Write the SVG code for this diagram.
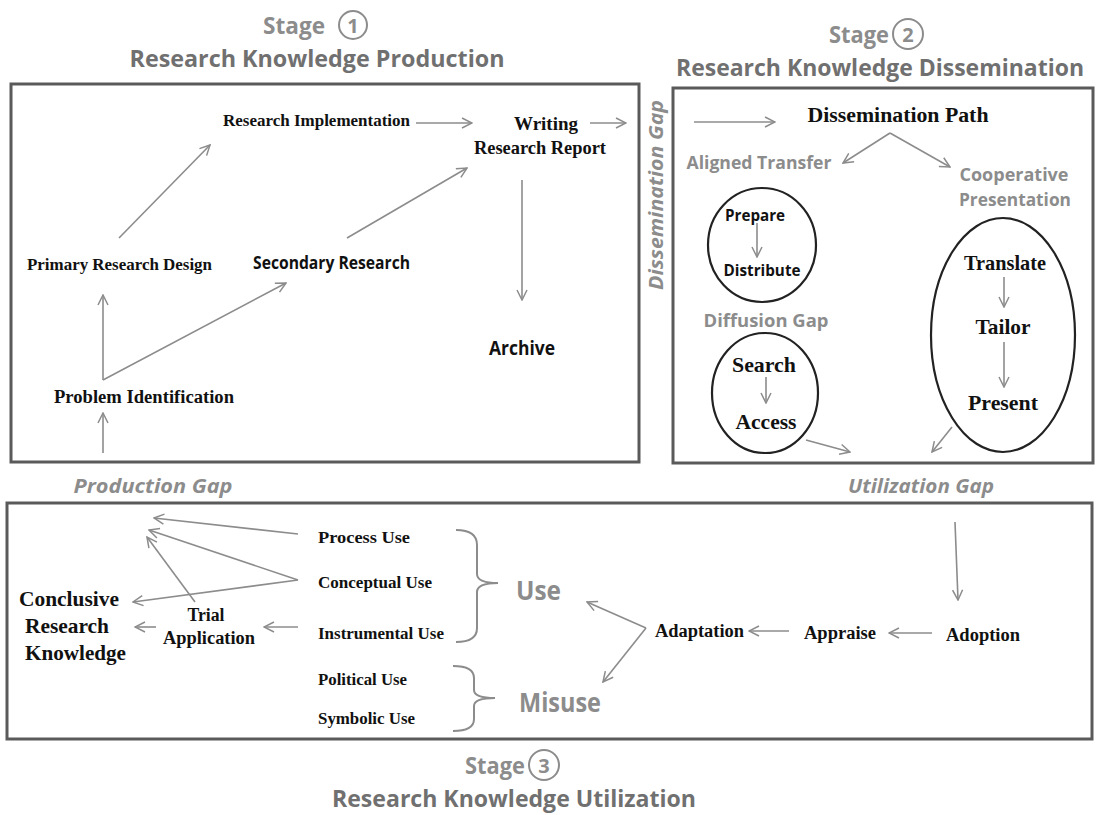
<svg xmlns="http://www.w3.org/2000/svg" width="1098" height="815" viewBox="0 0 1098 815">
<defs>
<marker id="ah" viewBox="0 0 12 12" refX="11" refY="6" markerWidth="12" markerHeight="12" markerUnits="userSpaceOnUse" orient="auto">
<path d="M1,1 L11,6 L1,11" fill="none" stroke="#8c8c8c" stroke-width="1.5"/>
</marker>
<style>
.box{fill:none;stroke:#5a5a5a;stroke-width:3}
.ell{fill:none;stroke:#222;stroke-width:2.2}
.ser{font-family:"Liberation Serif","Times New Roman",serif;font-weight:bold;fill:#111;dominant-baseline:central}
.san{font-family:"Open Sans","Noto Sans","Liberation Sans",sans-serif;font-weight:bold;fill:#111;dominant-baseline:central}
.gry{fill:#8c8c8c}
.ttl{fill:#707070}
.gap{font-family:"Open Sans","Noto Sans","Liberation Sans",sans-serif;font-weight:bold;font-style:italic;fill:#8c8c8c;dominant-baseline:central}
.mid{text-anchor:middle}
.cn line{stroke:#8c8c8c;stroke-width:1.6;marker-end:url(#ah)}
.brace{fill:none;stroke:#8c8c8c;stroke-width:2}
.numc{fill:none;stroke:#8c8c8c;stroke-width:2}
</style>
</defs>
<rect width="1098" height="815" fill="#fff"/>

<!-- Stage titles -->
<g id="stage1-title">
<text class="san gry" x="263" y="25" font-size="23" textLength="62" lengthAdjust="spacingAndGlyphs">Stage</text>
<circle class="numc" cx="353" cy="25" r="14"/>
<text class="san gry mid" x="353" y="25" font-size="20">1</text>
<text class="san ttl mid" x="317" y="58" font-size="23" textLength="375" lengthAdjust="spacingAndGlyphs">Research Knowledge Production</text>
</g>
<g id="stage2-title">
<text class="san gry" x="829" y="34" font-size="23" textLength="60" lengthAdjust="spacingAndGlyphs">Stage</text>
<circle class="numc" cx="908" cy="34" r="15"/>
<text class="san gry mid" x="908" y="34" font-size="20">2</text>
<text class="san ttl mid" x="880" y="67" font-size="23" textLength="408" lengthAdjust="spacingAndGlyphs">Research Knowledge Dissemination</text>
</g>
<g id="stage3-title">
<text class="san gry" x="465" y="765" font-size="23" textLength="60" lengthAdjust="spacingAndGlyphs">Stage</text>
<circle class="numc" cx="544" cy="765" r="15"/>
<text class="san gry mid" x="544" y="765" font-size="20">3</text>
<text class="san ttl mid" x="514" y="798" font-size="23" textLength="364" lengthAdjust="spacingAndGlyphs">Research Knowledge Utilization</text>
</g>

<!-- Boxes -->
<g id="stage1-box"><rect class="box" x="11" y="84" width="628" height="378"/></g>
<g id="stage2-box"><rect class="box" x="673" y="88" width="420" height="375"/></g>
<g id="stage3-box"><rect class="box" x="7" y="503" width="1085" height="236"/></g>

<!-- Gap labels -->
<g id="production-gap"><text class="gap mid" x="153" y="486" font-size="19" textLength="159" lengthAdjust="spacingAndGlyphs">Production Gap</text></g>
<g id="utilization-gap"><text class="gap mid" x="921" y="486" font-size="19" textLength="146" lengthAdjust="spacingAndGlyphs">Utilization Gap</text></g>
<g id="dissemination-gap"><text class="gap mid" transform="translate(656,195) rotate(-90)" x="0" y="0" font-size="19" textLength="190" lengthAdjust="spacingAndGlyphs">Dissemination Gap</text></g>

<!-- Stage 1 nodes -->
<g id="research-implementation"><text class="ser" x="223" y="120" font-size="17" textLength="187" lengthAdjust="spacingAndGlyphs">Research Implementation</text></g>
<g id="writing-report">
<text class="ser mid" x="546" y="123" font-size="19" textLength="64" lengthAdjust="spacingAndGlyphs">Writing</text>
<text class="ser mid" x="540" y="147" font-size="19" textLength="132" lengthAdjust="spacingAndGlyphs">Research Report</text>
</g>
<g id="primary-research-design"><text class="ser" x="27" y="264" font-size="17" textLength="185" lengthAdjust="spacingAndGlyphs">Primary Research Design</text></g>
<g id="secondary-research"><text class="san" x="253" y="262" font-size="17" textLength="157" lengthAdjust="spacingAndGlyphs">Secondary Research</text></g>
<g id="archive"><text class="san" x="489" y="348" font-size="19" textLength="66" lengthAdjust="spacingAndGlyphs">Archive</text></g>
<g id="problem-identification"><text class="ser" x="54" y="397" font-size="18" textLength="180" lengthAdjust="spacingAndGlyphs">Problem Identification</text></g>

<!-- Stage 2 nodes -->
<g id="dissemination-path"><text class="ser mid" x="898" y="115" font-size="20" textLength="181" lengthAdjust="spacingAndGlyphs">Dissemination Path</text></g>
<g id="aligned-transfer"><text class="san gry mid" x="759" y="162" font-size="18" textLength="145" lengthAdjust="spacingAndGlyphs">Aligned Transfer</text></g>
<g id="cooperative-presentation">
<text class="san gry mid" x="1014" y="174" font-size="18" textLength="109" lengthAdjust="spacingAndGlyphs">Cooperative</text>
<text class="san gry mid" x="1015" y="199" font-size="18" textLength="112" lengthAdjust="spacingAndGlyphs">Presentation</text>
</g>
<g id="prepare-distribute">
<ellipse class="ell" cx="762" cy="245" rx="54" ry="57"/>
<text class="san mid" x="755" y="215" font-size="16" textLength="60" lengthAdjust="spacingAndGlyphs">Prepare</text>
<text class="san mid" x="762" y="270" font-size="16" textLength="77" lengthAdjust="spacingAndGlyphs">Distribute</text>
</g>
<g id="diffusion-gap"><text class="san gry mid" x="766" y="320" font-size="18" textLength="125" lengthAdjust="spacingAndGlyphs">Diffusion Gap</text></g>
<g id="search-access">
<ellipse class="ell" cx="765" cy="393" rx="53" ry="60"/>
<text class="ser mid" x="764" y="365" font-size="21" textLength="64" lengthAdjust="spacingAndGlyphs">Search</text>
<text class="ser mid" x="766" y="422" font-size="21" textLength="61" lengthAdjust="spacingAndGlyphs">Access</text>
</g>
<g id="translate-tailor-present">
<ellipse class="ell" cx="1003" cy="335" rx="72" ry="117"/>
<text class="ser mid" x="1005" y="263" font-size="21" textLength="82" lengthAdjust="spacingAndGlyphs">Translate</text>
<text class="ser mid" x="1003" y="327" font-size="21" textLength="55" lengthAdjust="spacingAndGlyphs">Tailor</text>
<text class="ser mid" x="1003" y="403" font-size="21" textLength="70" lengthAdjust="spacingAndGlyphs">Present</text>
</g>

<!-- Stage 3 nodes -->
<g id="process-use"><text class="ser" x="318" y="537" font-size="17" textLength="92" lengthAdjust="spacingAndGlyphs">Process Use</text></g>
<g id="conceptual-use"><text class="ser" x="318" y="582" font-size="17" textLength="114" lengthAdjust="spacingAndGlyphs">Conceptual Use</text></g>
<g id="instrumental-use"><text class="ser" x="318" y="633" font-size="17" textLength="126" lengthAdjust="spacingAndGlyphs">Instrumental Use</text></g>
<g id="political-use"><text class="ser" x="318" y="679" font-size="17" textLength="89" lengthAdjust="spacingAndGlyphs">Political Use</text></g>
<g id="symbolic-use"><text class="ser" x="318" y="718" font-size="17" textLength="97" lengthAdjust="spacingAndGlyphs">Symbolic Use</text></g>
<g id="use">
<path class="brace" d="M456,530 Q477,530 477,545 L477,574 Q477,583 498,583 Q477,583 477,592 L477,628 Q477,642 456,642"/>
<text class="san gry" x="516" y="590" font-size="26" textLength="45" lengthAdjust="spacingAndGlyphs">Use</text>
</g>
<g id="misuse">
<path class="brace" d="M453,666 Q474,666 474,678 L474,690 Q474,698 495,698 Q474,698 474,706 L474,719 Q474,731 453,731"/>
<text class="san gry" x="519" y="702" font-size="26" textLength="82" lengthAdjust="spacingAndGlyphs">Misuse</text>
</g>
<g id="conclusive-research-knowledge">
<text class="ser" x="19" y="599" font-size="21" textLength="100" lengthAdjust="spacingAndGlyphs">Conclusive</text>
<text class="ser" x="25" y="626" font-size="21" textLength="84" lengthAdjust="spacingAndGlyphs">Research</text>
<text class="ser" x="25" y="653" font-size="21" textLength="101" lengthAdjust="spacingAndGlyphs">Knowledge</text>
</g>
<g id="trial-application">
<text class="ser mid" x="206" y="615" font-size="18" textLength="37" lengthAdjust="spacingAndGlyphs">Trial</text>
<text class="ser mid" x="209" y="638" font-size="18" textLength="92" lengthAdjust="spacingAndGlyphs">Application</text>
</g>
<g id="adaptation"><text class="ser" x="655" y="631" font-size="18" textLength="89" lengthAdjust="spacingAndGlyphs">Adaptation</text></g>
<g id="appraise"><text class="ser" x="804" y="633" font-size="18" textLength="72" lengthAdjust="spacingAndGlyphs">Appraise</text></g>
<g id="adoption"><text class="ser" x="946" y="635" font-size="18" textLength="74" lengthAdjust="spacingAndGlyphs">Adoption</text></g>

<!-- Connectors -->
<g id="connectors" class="cn">
<line x1="416" y1="123" x2="472" y2="123"/>
<line x1="590" y1="123" x2="626" y2="123"/>
<line x1="119" y1="238" x2="210" y2="145"/>
<line x1="347" y1="238" x2="467" y2="168"/>
<line x1="522" y1="180" x2="522" y2="300"/>
<line x1="103" y1="380" x2="103" y2="295"/>
<line x1="103" y1="380" x2="286" y2="283"/>
<line x1="103" y1="453" x2="103" y2="413"/>
<line x1="694" y1="122" x2="775" y2="122"/>
<line x1="890" y1="133" x2="843" y2="163"/>
<line x1="890" y1="133" x2="950" y2="167"/>
<line x1="757" y1="223" x2="757" y2="257"/>
<line x1="766" y1="377" x2="766" y2="403"/>
<line x1="806" y1="440" x2="850" y2="452"/>
<line x1="1004" y1="277" x2="1004" y2="307"/>
<line x1="1004" y1="342" x2="1004" y2="387"/>
<line x1="952" y1="427" x2="932" y2="452"/>
<line x1="955" y1="522" x2="958" y2="600"/>
<line x1="932" y1="633" x2="889" y2="633"/>
<line x1="789" y1="631" x2="749" y2="631"/>
<line x1="646" y1="628" x2="587" y2="602"/>
<line x1="646" y1="628" x2="603" y2="682"/>
<line x1="298" y1="534" x2="154" y2="518"/>
<line x1="298" y1="580" x2="149" y2="530"/>
<line x1="298" y1="580" x2="133" y2="602"/>
<line x1="195" y1="602" x2="147" y2="537"/>
<line x1="298" y1="627" x2="264" y2="627"/>
<line x1="156" y1="627" x2="135" y2="627"/>
</g>
</svg>
